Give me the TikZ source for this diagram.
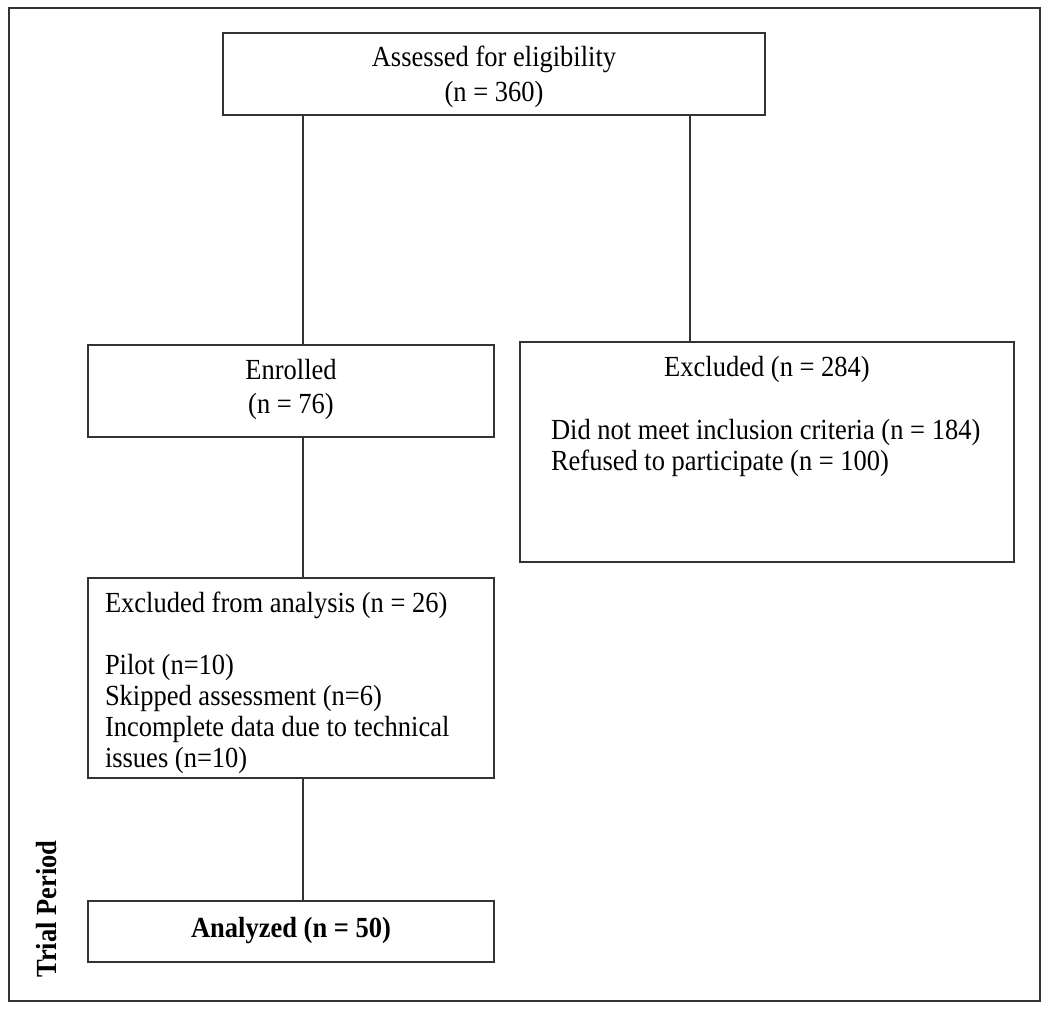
\documentclass[tikz,border=0pt]{standalone}
\usepackage{fontspec}
\setmainfont{Liberation Serif}
\newcommand\tallt[1]{\scalebox{1}[1.1]{#1}}
\begin{document}
\begin{tikzpicture}[x=1pt,y=-1pt,
  frame/.style={draw=black!80,line width=2pt},
  box/.style={draw=black!80,line width=1.8pt,inner sep=0pt,outer sep=0pt,anchor=north west},
  link/.style={draw=black!80,line width=1.6pt},
  txt/.style={inner sep=0pt,outer sep=0pt,font=\fontsize{26.5}{35}\selectfont},
  ltxt/.style={txt,anchor=base west},
  ctxt/.style={txt,anchor=base}]
\useasboundingbox (0,0) rectangle (1050,1010);
\draw[frame] (9,8) rectangle (1040,1001);
% boxes
\node[box,minimum width=542pt,minimum height=82pt] (assess) at (223,33) {};
\node[box,minimum width=406pt,minimum height=92pt] (enrol) at (88,345) {};
\node[box,minimum width=494pt,minimum height=220pt] (excl) at (520,342) {};
\node[box,minimum width=406pt,minimum height=200pt] (exana) at (88,578) {};
\node[box,minimum width=406pt,minimum height=61pt] (anal) at (88,901) {};
% texts (one node per printed line)
\node[ctxt] (t1a) at (494,66) {\tallt{Assessed for eligibility}};
\node[ctxt] (t1b) at (494,101) {\tallt{(n = 360)}};
\node[ctxt] (t2a) at (291,379) {\tallt{Enrolled}};
\node[ctxt] (t2b) at (291,413) {\tallt{(n = 76)}};
\node[ctxt] (t3a) at (767,376) {\tallt{Excluded (n = 284)}};
\node[ltxt] (t3b) at (551,439) {\tallt{Did not meet inclusion criteria (n = 184)}};
\node[ltxt] (t3c) at (551,470) {\tallt{Refused to participate (n = 100)}};
\node[ltxt] (t4a) at (105,612) {\tallt{Excluded from analysis (n = 26)}};
\node[ltxt] (t4b) at (105,674) {\tallt{Pilot (n=10)}};
\node[ltxt] (t4c) at (105,705) {\tallt{Skipped assessment (n=6)}};
\node[ltxt] (t4d) at (105,736) {\tallt{Incomplete data due to technical}};
\node[ltxt] (t4e) at (105,767) {\tallt{issues (n=10)}};
\node[ctxt,font=\fontsize{26.5}{35}\selectfont\bfseries] (t5) at (291,937) {\tallt{Analyzed (n = 50)}};
\node[txt,anchor=base,rotate=90,font=\fontsize{26.5}{35}\selectfont\bfseries] (trial) at (56,909) {\tallt{Trial Period}};
% connectors
\coordinate (lx) at (303,0);
\coordinate (rx) at (690,0);
\draw[link] (lx |- assess.south) -- (lx |- enrol.north);
\draw[link] (rx |- assess.south) -- (rx |- excl.north);
\draw[link] (lx |- enrol.south) -- (lx |- exana.north);
\draw[link] (lx |- exana.south) -- (lx |- anal.north);
\end{tikzpicture}
\end{document}
